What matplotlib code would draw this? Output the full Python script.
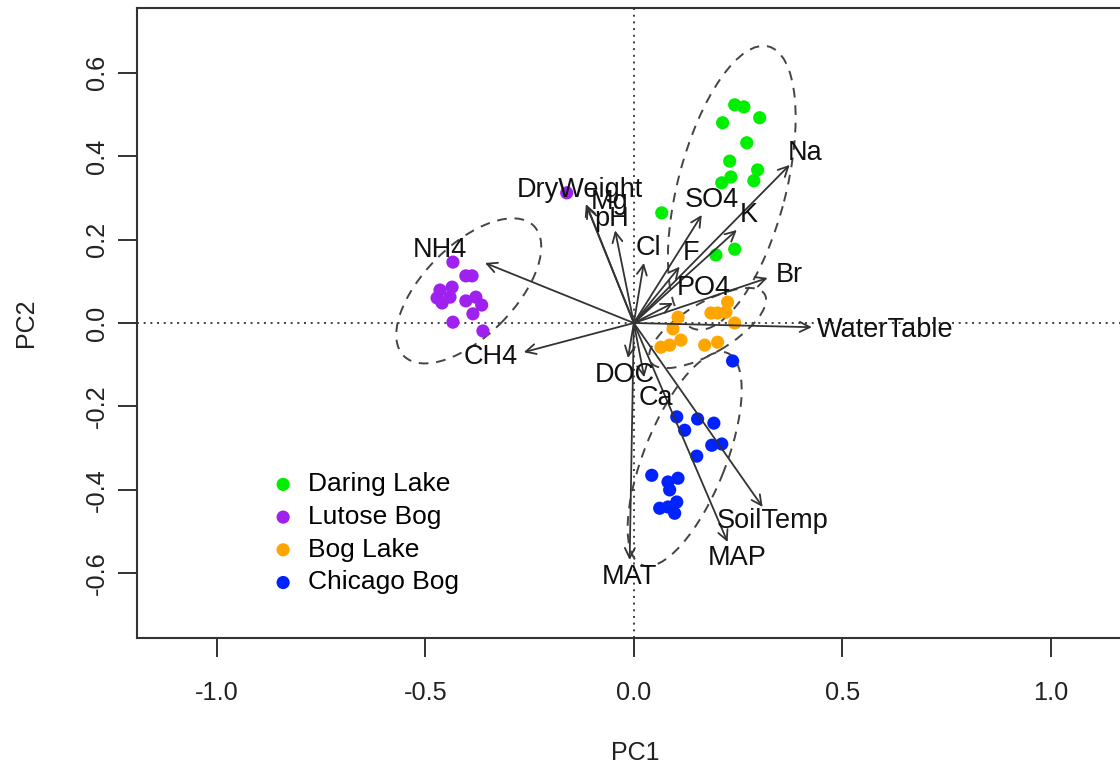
import numpy as np
import matplotlib
matplotlib.use("Agg")
import matplotlib.pyplot as plt
from matplotlib.patches import Ellipse

plt.rcParams['font.family'] = ['Liberation Sans', 'DejaVu Sans']

# site scores (PC1, PC2)
daring_x = [0.242, 0.264, 0.213, 0.302, 0.271, 0.230, 0.297, 0.233, 0.211, 0.288, 0.067, 0.197, 0.242]
daring_y = [0.523, 0.518, 0.480, 0.492, 0.432, 0.388, 0.367, 0.350, 0.336, 0.341, 0.264, 0.163, 0.177]

lutose_x = [-0.434, -0.403, -0.388, -0.465, -0.436, -0.472, -0.460, -0.441, -0.403, -0.379,
            -0.365, -0.386, -0.434, -0.362, -0.161]
lutose_y = [0.146, 0.113, 0.113, 0.079, 0.086, 0.060, 0.048, 0.062, 0.053, 0.062,
            0.043, 0.022, 0.002, -0.019, 0.312]

boglake_x = [0.225, 0.185, 0.201, 0.221, 0.106, 0.242, 0.094, 0.113, 0.086, 0.065, 0.170, 0.201]
boglake_y = [0.050, 0.024, 0.024, 0.026, 0.014, 0.000, -0.014, -0.041, -0.053, -0.058, -0.053, -0.046]

chicago_x = [0.237, 0.103, 0.153, 0.192, 0.122, 0.187, 0.211, 0.151, 0.043, 0.082, 0.106,
             0.086, 0.103, 0.062, 0.082, 0.098]
chicago_y = [-0.091, -0.225, -0.230, -0.240, -0.257, -0.293, -0.290, -0.319, -0.365, -0.381, -0.372,
             -0.400, -0.429, -0.444, -0.441, -0.456]

site_names = ["Daring Lake", "Lutose Bog", "Bog Lake", "Chicago Bog"]
site_colors = ["#00ee00", "#a020f0", "#ffa500", "#0022ff"]

# group ellipses: centre, full width, full height, angle (deg)
ell_cx = [0.235, -0.396, 0.177, 0.122]
ell_cy = [0.324, 0.077, -0.012, -0.326]
ell_w = [0.700, 0.441, 0.318, 0.548]
ell_h = [0.259, 0.218, 0.121, 0.196]
ell_ang = [75.4, 45.0, 30.5, 68.1]

# variable loadings (arrow tips) and label positions
var_names = ["NH4", "CH4", "DryWeight", "Mg", "pH", "Cl", "SO4", "K", "F", "Na", "Br", "PO4",
             "WaterTable", "DOC", "Ca", "MAT", "MAP", "SoilTemp"]
var_x = [-0.357, -0.264, -0.115, -0.112, -0.045, 0.024, 0.163, 0.247, 0.110, 0.374, 0.321, 0.094,
         0.427, -0.014, 0.025, -0.010, 0.225, 0.309]
var_y = [0.144, -0.070, 0.285, 0.280, 0.222, 0.144, 0.259, 0.223, 0.135, 0.379, 0.108, 0.048,
         -0.010, -0.084, -0.130, -0.568, -0.525, -0.441]
lab_x = [-0.465, -0.343, -0.129, -0.058, -0.053, 0.034, 0.187, 0.276, 0.137, 0.410, 0.372, 0.168,
         0.602, -0.022, 0.053, -0.010, 0.247, 0.333]
lab_y = [0.175, -0.082, 0.319, 0.290, 0.250, 0.180, 0.295, 0.259, 0.168, 0.408, 0.115, 0.084,
         -0.017, -0.125, -0.180, -0.609, -0.564, -0.475]

fig = plt.figure(figsize=(11.2, 7.7), dpi=100)
ax = fig.add_axes([0.1223, 0.1714, 0.8902, 0.8182])
ax.set_xlim(-1.192, 1.2)
ax.set_ylim(-0.755, 0.755)

ax.axhline(0, color="#333333", linestyle=(0, (1.1, 2.6)), lw=1.3, zorder=1)
ax.axvline(0, color="#333333", linestyle=(0, (1.1, 2.6)), lw=1.3, zorder=1)

groups = [(daring_x, daring_y), (lutose_x, lutose_y), (boglake_x, boglake_y), (chicago_x, chicago_y)]
for (gx, gy), name, col in zip(groups, site_names, site_colors):
    ax.scatter(gx, gy, s=90, color=col, edgecolors="none", label=name, zorder=3)

for cx, cy, w, h, a in zip(ell_cx, ell_cy, ell_w, ell_h, ell_ang):
    ax.add_patch(Ellipse((cx, cy), w, h, angle=a, fill=False, edgecolor="#444444",
                         linestyle=(0, (5, 4)), lw=1.4, zorder=2))

for vx, vy, lx, ly, name in zip(var_x, var_y, lab_x, lab_y, var_names):
    ax.annotate("", xy=(vx, vy), xytext=(0, 0),
                arrowprops=dict(arrowstyle="->", color="#333333", lw=1.3,
                                mutation_scale=18, shrinkA=0, shrinkB=0), zorder=4)
    ax.text(lx, ly, name, fontsize=19.5, ha="center", va="center", color="#111111", zorder=5)

ax.set_xticks([-1.0, -0.5, 0.0, 0.5, 1.0])
ax.set_yticks([-0.6, -0.4, -0.2, 0.0, 0.2, 0.4, 0.6])
ax.set_xticklabels(["-1.0", "-0.5", "0.0", "0.5", "1.0"])
ax.set_yticklabels(["-0.6", "-0.4", "-0.2", "0.0", "0.2", "0.4", "0.6"], rotation=90, va="center")
ax.tick_params(labelsize=18.3, length=14, width=1.3, colors="#222222")
ax.tick_params(axis="x", pad=17)
ax.tick_params(axis="y", pad=6)
for sp in ax.spines.values():
    sp.set_linewidth(1.5)
    sp.set_color("#333333")

ax.set_xlabel("PC1", fontsize=18, labelpad=26, color="#222222")
ax.set_ylabel("PC2", fontsize=18, labelpad=34, color="#222222")

ax.legend(loc="upper left", bbox_to_anchor=(0.136, 0.263), frameon=False, fontsize=19,
          handlelength=0.8, handletextpad=0.55, labelspacing=0.33, markerscale=1.0,
          borderaxespad=0, borderpad=0)

fig.savefig("out.png", dpi=100)
